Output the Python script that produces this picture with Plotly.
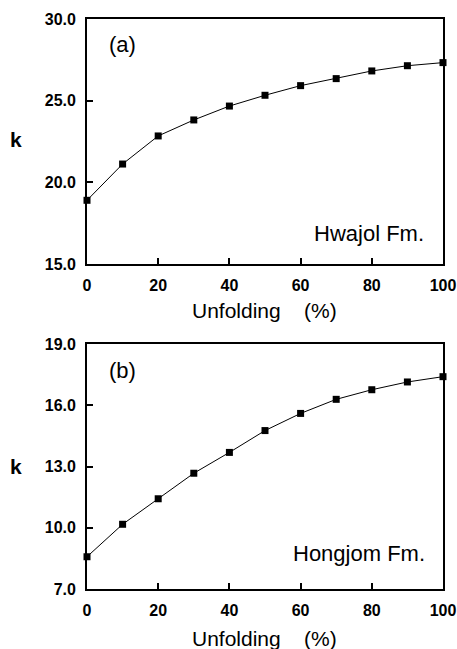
import plotly.graph_objects as go

W, H = 457, 649

unfolding = [0, 10, 20, 30, 40, 50, 60, 70, 80, 90, 100]
k_hwajol = [18.9, 21.12, 22.84, 23.82, 24.67, 25.33, 25.92, 26.35, 26.82, 27.14, 27.33]
k_hongjom = [8.58, 10.17, 11.42, 12.67, 13.69, 14.76, 15.6, 16.29, 16.76, 17.14, 17.40]

x_ticks = [0, 20, 40, 60, 80, 100]
y_ticks_a = [15.0, 20.0, 25.0, 30.0]
y_ticks_b = [7.0, 10.0, 13.0, 16.0, 19.0]

FONT = "Liberation Sans, Arial, sans-serif"

def px_x(p):
    return p / W

def px_y(p):
    return 1 - p / H

fig = go.Figure()
fig.add_trace(go.Scatter(x=unfolding, y=k_hwajol, mode="lines+markers",
                         line=dict(color="black", width=1),
                         marker=dict(symbol="square", size=7, color="black"),
                         xaxis="x", yaxis="y", cliponaxis=False, showlegend=False))
fig.add_trace(go.Scatter(x=unfolding, y=k_hongjom, mode="lines+markers",
                         line=dict(color="black", width=1),
                         marker=dict(symbol="square", size=7, color="black"),
                         xaxis="x2", yaxis="y2", cliponaxis=False, showlegend=False))

xdom = [px_x(87), px_x(443)]
ydom_a = [px_y(264), px_y(19)]
ydom_b = [px_y(589), px_y(344)]

tickfont = dict(family=FONT, size=16, color="black", weight="bold")
common_x = dict(range=[0, 100], tickvals=x_ticks, ticktext=[str(v) for v in x_ticks],
                ticks="inside", ticklen=6, tickwidth=1.5, tickcolor="black",
                showline=True, linecolor="black", linewidth=1.8, mirror=True,
                showgrid=False, zeroline=False, tickfont=tickfont, ticklabelstandoff=6,
                automargin=False)
common_y = dict(ticks="inside", ticklen=6, tickwidth=1.5, tickcolor="black",
                showline=True, linecolor="black", linewidth=1.8, mirror=True,
                showgrid=False, zeroline=False, tickfont=tickfont, ticklabelstandoff=6,
                automargin=False)

fig.update_layout(
    width=W, height=H,
    margin=dict(l=0, r=0, t=0, b=0),
    paper_bgcolor="white", plot_bgcolor="white",
    xaxis=dict(domain=xdom, anchor="y", **common_x),
    yaxis=dict(domain=ydom_a, anchor="x", range=[15, 30], tickvals=y_ticks_a,
               ticktext=[f"{v:.1f}" for v in y_ticks_a], **common_y),
    xaxis2=dict(domain=xdom, anchor="y2", **common_x),
    yaxis2=dict(domain=ydom_b, anchor="x2", range=[7, 19], tickvals=y_ticks_b,
                ticktext=[f"{v:.1f}" for v in y_ticks_b], **common_y),
)

def ann(text, x, y, size, xanchor="center", yanchor="middle", weight="normal"):
    fig.add_annotation(text=text, x=px_x(x), y=px_y(y), xref="paper", yref="paper",
                       showarrow=False, xanchor=xanchor, yanchor=yanchor,
                       font=dict(family=FONT, size=size, color="black", weight=weight))

ann("k", 16, 140, 21, weight="bold")
ann("k", 16, 466, 21, weight="bold")
ann("Unfolding\u00a0\u00a0\u00a0\u00a0(%)", 264, 311, 21)
ann("Unfolding\u00a0\u00a0\u00a0\u00a0(%)", 264, 638, 21)
ann("(a)", 122, 45, 22)
ann("(b)", 122, 370, 22)
ann("Hwajol Fm.", 426, 233, 22, xanchor="right")
ann("Hongjom Fm.", 427, 553, 22, xanchor="right")

fig.write_html("out.html")
